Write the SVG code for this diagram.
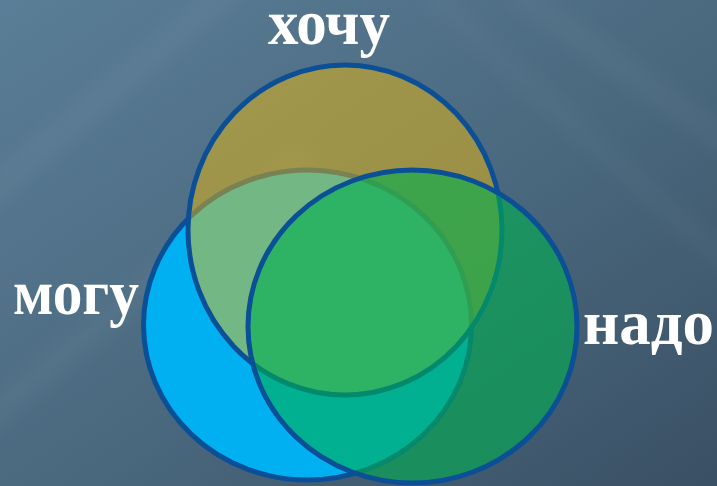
<svg xmlns="http://www.w3.org/2000/svg" width="717" height="486" viewBox="0 0 717 486">
  <defs>
    <linearGradient id="bg" x1="0" y1="0" x2="1" y2="1">
      <stop offset="0" stop-color="#5a7e97"/>
      <stop offset="0.5" stop-color="#4b6a80"/>
      <stop offset="1" stop-color="#3a5064"/>
    </linearGradient>
    <filter id="soft" x="-20%" y="-20%" width="140%" height="140%">
      <feGaussianBlur stdDeviation="10"/>
    </filter>
    <style>
      .lbl { font-family: "Liberation Serif", "Times New Roman", serif; font-weight: bold; font-size: 64px; fill: #ffffff; }
      .ring { stroke: #0b4f97; stroke-width: 5; }
    </style>
  </defs>

  <rect width="717" height="486" fill="url(#bg)"/>
  <g filter="url(#soft)" fill="#ffffff">
    <path d="M-40 200 L230 -30 L250 -10 L-30 230 Z" opacity="0.04"/>
    <path d="M-40 420 L300 140 L320 160 L-30 450 Z" opacity="0.04"/>
    <path d="M520 -20 L760 150 L745 170 L505 0 Z" opacity="0.04"/>
    <path d="M430 -20 L740 260 L730 280 L420 0 Z" opacity="0.03"/>
  </g>

  <g id="mogu">
    <ellipse class="ring" cx="307.5" cy="325" rx="164" ry="155" fill="#00b0f0"/>
  </g>
  <g id="khochu">
    <ellipse class="ring" cx="345" cy="230" rx="157" ry="165" fill="#ffc000" fill-opacity="0.45"/>
  </g>
  <g id="nado">
    <ellipse class="ring" cx="412.5" cy="326.5" rx="164.5" ry="156.5" fill="#00b050" fill-opacity="0.6"/>
  </g>

  <g id="labels">
    <text class="lbl" x="268" y="44" textLength="122" lengthAdjust="spacingAndGlyphs">хочу</text>
    <text class="lbl" x="13" y="314" textLength="126" lengthAdjust="spacingAndGlyphs">могу</text>
    <text class="lbl" x="583" y="344" textLength="131" lengthAdjust="spacingAndGlyphs">надо</text>
  </g>
</svg>
